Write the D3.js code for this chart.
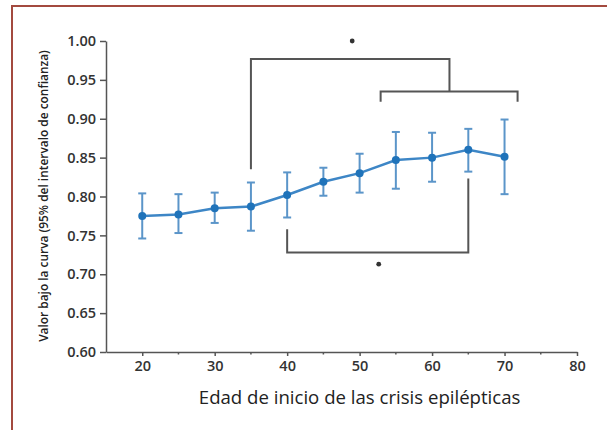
<!DOCTYPE html>
<html>
<head>
<meta charset="utf-8">
<script src="https://cdn.jsdelivr.net/npm/d3@7"></script>
<style>
  body { margin: 0; background: #fff; }
  .axis path, .axis line { stroke: #555; stroke-width: 1.5; }
  .axis text { font-family: "Open Sans", sans-serif; font-size: 14.5px; fill: #333; font-weight: 600; }
</style>
</head>
<body>
<div id="chart"></div>
<script>
const svgWidth = 607;
const svgHeight = 430;

// data
const ages = [20, 25, 30, 35, 40, 45, 50, 55, 60, 65, 70];
const auc = [0.775, 0.777, 0.785, 0.787, 0.802, 0.819, 0.830, 0.847, 0.850, 0.860, 0.851];
const ciLow = [0.746, 0.753, 0.766, 0.756, 0.773, 0.801, 0.805, 0.810, 0.819, 0.832, 0.803];
const ciHigh = [0.804, 0.803, 0.805, 0.818, 0.831, 0.837, 0.855, 0.883, 0.882, 0.887, 0.899];
const xTicks = [20, 30, 40, 50, 60, 70, 80];
const xMinorTicks = [25, 35, 45, 55, 65, 75];
const yTicks = [0.60, 0.65, 0.70, 0.75, 0.80, 0.85, 0.90, 0.95, 1.00];

// significance brackets: [x1, x2, y of bar, y of leg ends]
const topOuter = {x1: 35, x2: 62.4, yBar: 0.977, yLeft: 0.835, yRight: 0.935};
const topInner = {x1: 52.9, x2: 71.8, yBar: 0.935, yLegs: 0.922};
const bottomBr = {x1: 40, x2: 65, yBar: 0.728, yLeft: 0.758, yRight: 0.823};

document.addEventListener("DOMContentLoaded", function(event){
  drawChart();
});

function drawChart(){
  const svg = d3.select("#chart")
    .append("svg")
    .attr("width", svgWidth)
    .attr("height", svgHeight);

  // frame
  svg.append("line").attr("x1", 12).attr("x2", 12).attr("y1", 5).attr("y2", svgHeight)
    .attr("stroke", "#a34a3f").attr("stroke-width", 2);
  svg.append("line").attr("x1", 11).attr("x2", svgWidth).attr("y1", 6).attr("y2", 6)
    .attr("stroke", "#a34a3f").attr("stroke-width", 2);

  const xscale = d3.scaleLinear().domain([15, 80]).range([106, 577]);
  const yscale = d3.scaleLinear().domain([0.6, 1.0]).range([352, 41]);

  const xaxis = d3.axisBottom(xscale).tickValues(xTicks).tickSize(4).tickPadding(5).tickSizeOuter(0);
  const yaxis = d3.axisLeft(yscale).tickValues(yTicks).tickSize(6).tickPadding(4)
    .tickFormat(d3.format(".2f")).tickSizeOuter(0);

  const gx = svg.append("g")
    .attr("class", "axis")
    .attr("transform", "translate(0," + yscale(0.6) + ")")
    .call(xaxis);
  gx.selectAll(".minor").data(xMinorTicks).enter().append("line")
    .attr("class", "minor")
    .attr("x1", d => xscale(d)).attr("x2", d => xscale(d))
    .attr("y1", 0).attr("y2", 2.5);

  svg.append("g")
    .attr("class", "axis")
    .attr("transform", "translate(" + xscale(15) + ",0)")
    .call(yaxis);

  svg.append("text")
    .attr("transform", "translate(" + xscale(50) + ",404)")
    .attr("text-anchor", "middle")
    .style("font-family", "Open Sans, sans-serif")
    .style("font-size", "18.6px")
    .style("fill", "#222")
    .text("Edad de inicio de las crisis epilépticas");

  svg.append("text")
    .attr("transform", "translate(48,196)rotate(-90)")
    .attr("text-anchor", "middle")
    .style("font-family", "Open Sans, sans-serif")
    .style("font-size", "11.9px")
    .style("font-weight", "600")
    .style("fill", "#222")
    .text("Valor bajo la curva (95% del intervalo de confianza)");

  // brackets
  const bracket = svg.append("g")
    .attr("fill", "none")
    .attr("stroke", "#555")
    .attr("stroke-width", 2);
  bracket.append("path").attr("d",
    "M" + xscale(topOuter.x1) + "," + yscale(topOuter.yLeft) +
    "V" + yscale(topOuter.yBar) + "H" + xscale(topOuter.x2) + "V" + yscale(topOuter.yRight));
  bracket.append("path").attr("d",
    "M" + xscale(topInner.x1) + "," + yscale(topInner.yLegs) +
    "V" + yscale(topInner.yBar) + "H" + xscale(topInner.x2) + "V" + yscale(topInner.yLegs));
  bracket.append("path").attr("d",
    "M" + xscale(bottomBr.x1) + "," + yscale(bottomBr.yLeft) +
    "V" + yscale(bottomBr.yBar) + "H" + xscale(bottomBr.x2) + "V" + yscale(bottomBr.yRight));

  svg.append("circle").attr("cx", xscale((topOuter.x1 + topOuter.x2) / 2) + 2)
    .attr("cy", yscale(1.0)).attr("r", 2.4).attr("fill", "#333");
  svg.append("circle").attr("cx", xscale((bottomBr.x1 + bottomBr.x2) / 2) + 1)
    .attr("cy", yscale(0.713)).attr("r", 2.4).attr("fill", "#333");

  const data = ages.map((a, i) => ({x: a, y: auc[i], lo: ciLow[i], hi: ciHigh[i]}));

  // error bars
  const eb = svg.append("g").attr("stroke", "#5b95c9").attr("stroke-width", 2);
  eb.selectAll(".v").data(data).enter().append("line")
    .attr("x1", d => xscale(d.x)).attr("x2", d => xscale(d.x))
    .attr("y1", d => yscale(d.lo)).attr("y2", d => yscale(d.hi));
  eb.selectAll(".t").data(data).enter().append("line")
    .attr("x1", d => xscale(d.x) - 4).attr("x2", d => xscale(d.x) + 4)
    .attr("y1", d => yscale(d.hi)).attr("y2", d => yscale(d.hi));
  eb.selectAll(".b").data(data).enter().append("line")
    .attr("x1", d => xscale(d.x) - 4).attr("x2", d => xscale(d.x) + 4)
    .attr("y1", d => yscale(d.lo)).attr("y2", d => yscale(d.lo));

  const line = d3.line().x(d => xscale(d.x)).y(d => yscale(d.y));
  svg.append("path").datum(data)
    .attr("fill", "none").attr("stroke", "#3d86c6").attr("stroke-width", 2.5)
    .attr("d", line);

  svg.selectAll(".pt").data(data).enter().append("circle")
    .attr("cx", d => xscale(d.x)).attr("cy", d => yscale(d.y))
    .attr("r", 4).attr("fill", "#1f73ba");
}
</script>
</body>
</html>
